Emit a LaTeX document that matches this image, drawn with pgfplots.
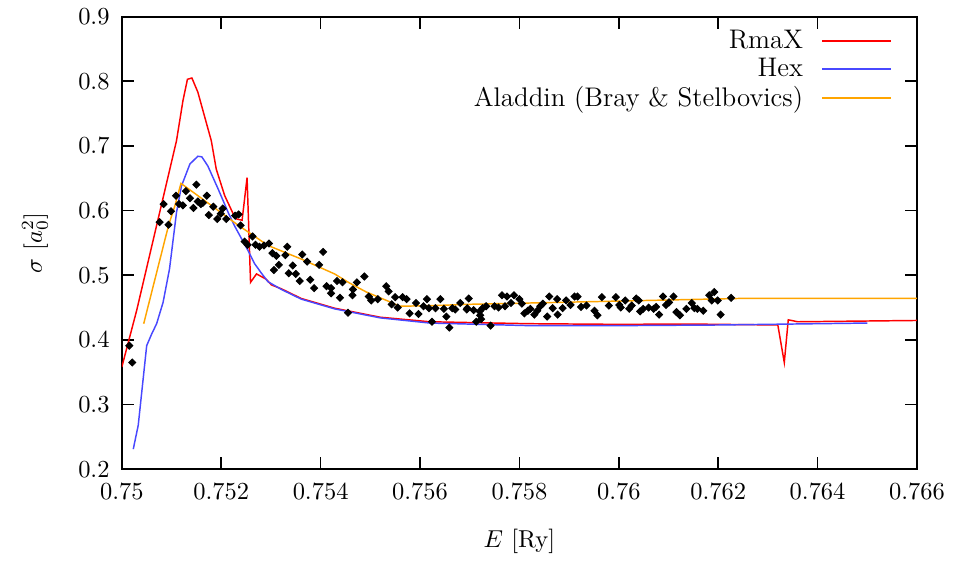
\documentclass[border=0pt]{standalone}
\usepackage{pgfplots}
\pgfplotsset{compat=1.18}
\definecolor{gpred}{RGB}{255,0,0}
\definecolor{gpblue}{RGB}{72,72,255}
\definecolor{gporange}{RGB}{255,165,0}
\begin{document}
\begin{tikzpicture}
\begin{axis}[
  scale only axis,
  width=325pt, height=185pt,
  xmin=0.75, xmax=0.766, ymin=0.2, ymax=0.9,
  xtick={0.75,0.752,0.754,0.756,0.758,0.76,0.762,0.764,0.766},
  xticklabels={0.75,0.752,0.754,0.756,0.758,0.76,0.762,0.764,0.766},
  ytick={0.2,0.3,0.4,0.5,0.6,0.7,0.8,0.9},
  yticklabels={0.2,0.3,0.4,0.5,0.6,0.7,0.8,0.9},
  scaled x ticks=false,
  tick align=inside,
  major tick length=5pt,
  tick style={black, line width=0.6pt},
  axis line style={line width=0.8pt},
  xticklabel style={yshift=-2pt},
  yticklabel style={xshift=-1.5pt},
  xlabel={$E$ [Ry]},
  ylabel={$\sigma$ [$a_0^2$]},
  xlabel style={at={(axis description cs:0.5,0)}, anchor=north, yshift=-21pt},
  ylabel style={at={(axis description cs:0,0.5)}, anchor=center, yshift=35.5pt},
  legend plot pos=right,
  legend cell align=right,
  legend style={draw=none, fill=none, at={(0.978,0.993)}, anchor=north east, row sep=-1.5pt, column sep=5.5pt, font=\fontsize{11}{13}\selectfont},
  legend image code/.code={\draw[#1, line width=0.7pt] (0pt,0pt) -- (28pt,0pt);},
]
\addplot[only marks, mark=square*, mark size=1.0pt, mark options={rotate=45, fill=black, draw=black}, forget plot] coordinates {
(0.75015,0.391) (0.75021,0.365)
(0.75076,0.582) (0.75084,0.610) (0.75094,0.578) (0.75099,0.599) (0.75109,0.623)
(0.75115,0.610) (0.75123,0.608) (0.75129,0.630) (0.75137,0.619) (0.75144,0.604)
(0.75150,0.640) (0.75153,0.614) (0.75159,0.610) (0.75163,0.612) (0.75171,0.623)
(0.75175,0.593) (0.75184,0.606) (0.75192,0.587) (0.75199,0.595) (0.75203,0.603)
(0.75210,0.587) (0.75228,0.592) (0.75235,0.594) (0.75239,0.577)
(0.75247,0.552) (0.75253,0.547) (0.75263,0.560) (0.75269,0.547) (0.75277,0.544)
(0.75286,0.546) (0.75296,0.549) (0.75303,0.534) (0.75311,0.530) (0.75316,0.516)
(0.75306,0.508) (0.75329,0.531) (0.75333,0.544) (0.75336,0.503) (0.75344,0.515)
(0.75350,0.502) (0.75358,0.491) (0.75363,0.532) (0.75373,0.521) (0.75379,0.493)
(0.75387,0.480) (0.75397,0.516) (0.75405,0.536) (0.75412,0.483) (0.75421,0.480)
(0.75421,0.472) (0.75433,0.491) (0.75444,0.489) (0.75439,0.465) (0.75455,0.442)
(0.75465,0.478) (0.75464,0.469) (0.75473,0.489) (0.75488,0.498) (0.75497,0.467)
(0.75502,0.461) (0.75515,0.463) (0.75532,0.483) (0.75537,0.475) (0.75543,0.455)
(0.75550,0.466) (0.75555,0.450) (0.75565,0.466) (0.75573,0.463) (0.75579,0.441)
(0.75592,0.457) (0.75597,0.440) (0.75607,0.452) (0.75614,0.463) (0.75618,0.449)
(0.75624,0.428) (0.75631,0.449) (0.75641,0.463) (0.75648,0.448) (0.75653,0.436)
(0.75659,0.419) (0.75665,0.449) (0.75671,0.447) (0.75681,0.457) (0.75694,0.447)
(0.75698,0.464) (0.75695,0.449) (0.75708,0.446) (0.75720,0.444) (0.75721,0.438)
(0.75723,0.432) (0.75713,0.428) (0.75726,0.449) (0.75733,0.452) (0.75742,0.422)
(0.75750,0.452) (0.75758,0.450) (0.75765,0.469) (0.75771,0.452) (0.75775,0.467)
(0.75783,0.457) (0.75789,0.469) (0.75800,0.463) (0.75805,0.456) (0.75810,0.441)
(0.75817,0.445) (0.75822,0.448) (0.75830,0.439) (0.75836,0.445) (0.75842,0.452)
(0.75847,0.456) (0.75856,0.436) (0.75860,0.467) (0.75867,0.449) (0.75876,0.463)
(0.75877,0.439) (0.75887,0.449) (0.75894,0.461) (0.75903,0.454) (0.75911,0.467)
(0.75917,0.467) (0.75924,0.451) (0.75935,0.453) (0.75951,0.445) (0.75957,0.438)
(0.75966,0.466) (0.75980,0.453) (0.75994,0.466) (0.76001,0.454) (0.76004,0.450)
(0.76013,0.461) (0.76021,0.448) (0.76026,0.453) (0.76035,0.464) (0.76040,0.461)
(0.76043,0.444) (0.76049,0.448) (0.76060,0.450) (0.76070,0.448) (0.76075,0.451)
(0.76081,0.439) (0.76089,0.467) (0.76095,0.454) (0.76101,0.458) (0.76110,0.467)
(0.76116,0.443) (0.76123,0.438) (0.76136,0.448) (0.76147,0.457) (0.76152,0.449)
(0.76158,0.448) (0.76170,0.445) (0.76182,0.469) (0.76192,0.474) (0.76187,0.461)
(0.76199,0.461) (0.76205,0.439) (0.76226,0.465)
};
\addplot[color=gpred, line width=0.6pt] coordinates {
(0.75000,0.358) (0.75030,0.446) (0.75110,0.708) (0.75123,0.770) (0.75132,0.803)
(0.75141,0.805) (0.75153,0.783) (0.75180,0.708) (0.75190,0.664) (0.75207,0.623)
(0.75224,0.595) (0.75231,0.587) (0.75242,0.585) (0.75252,0.651) (0.75259,0.489)
(0.75271,0.502) (0.75290,0.494) (0.75301,0.485) (0.75321,0.479) (0.75361,0.464)
(0.75428,0.449) (0.75520,0.435) (0.75620,0.428) (0.75820,0.425) (0.76000,0.424)
(0.76140,0.4245) (0.76320,0.423) (0.76333,0.365) (0.76341,0.431) (0.76360,0.428)
(0.76600,0.430)
};
\addlegendentry{RmaX}
\addplot[color=gpblue, line width=0.6pt] coordinates {
(0.75023,0.231) (0.75033,0.268) (0.75050,0.391) (0.75060,0.409) (0.75070,0.425)
(0.75083,0.458) (0.75096,0.510) (0.75110,0.597) (0.75120,0.638) (0.75137,0.672)
(0.75153,0.684) (0.75161,0.683) (0.75173,0.669) (0.75194,0.633) (0.75214,0.597)
(0.75227,0.576) (0.75254,0.538) (0.75267,0.518) (0.75281,0.503) (0.75294,0.490)
(0.75321,0.478) (0.75361,0.463) (0.75428,0.448) (0.75520,0.434) (0.75620,0.426)
(0.75820,0.422) (0.76000,0.422) (0.76200,0.423) (0.76400,0.425) (0.76500,0.426)
};
\addlegendentry{Hex}
\addplot[color=gporange, line width=0.6pt] coordinates {
(0.75044,0.425) (0.75094,0.577) (0.75107,0.608) (0.75119,0.642) (0.75187,0.604)
(0.75231,0.579) (0.75294,0.546) (0.75361,0.525) (0.75428,0.502) (0.75458,0.488)
(0.75492,0.474) (0.75545,0.457) (0.75559,0.452) (0.75626,0.453) (0.75699,0.455)
(0.75820,0.457) (0.76000,0.460) (0.76240,0.464) (0.76600,0.464)
};
\addlegendentry{Aladdin (Bray \& Stelbovics)}
\end{axis}
\path ([xshift=-49.8pt,yshift=-37.6pt]current axis.south west) rectangle ([xshift=14.3pt,yshift=5.7pt]current axis.north east);
\end{tikzpicture}
\end{document}
